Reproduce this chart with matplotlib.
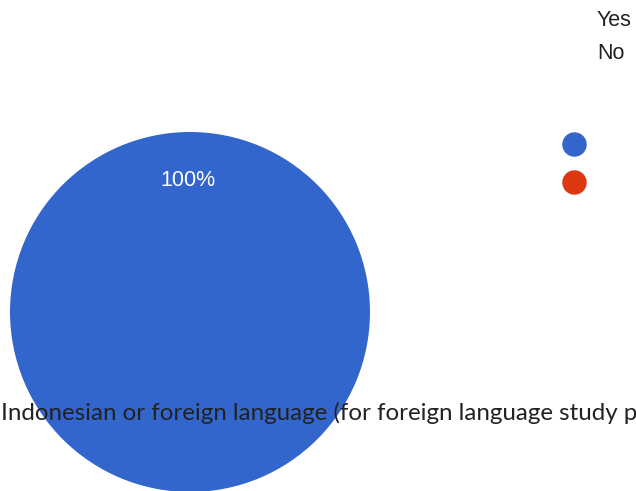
import matplotlib
matplotlib.use("Agg")
import matplotlib.pyplot as plt

labels = ["Yes", "No"]
values = [100, 0]
colors = ["#3366CC", "#DC3912"]
caption = "Indonesian or foreign language (for foreign language study p"

W, H = 636, 491
fig = plt.figure(figsize=(W / 100, H / 100), dpi=100)
ax = fig.add_axes([0, 0, 1, 1])

ax.pie(values[:1], colors=colors[:1], center=(190, H - 312), radius=180,
       startangle=90, counterclock=False)
ax.set_xlim(0, W)
ax.set_ylim(0, H)
ax.set_aspect("equal")
ax.axis("off")

pct = f"{values[0] / sum(values) * 100:.0f}%"
ax.text(188, H - 180, pct, color="white", fontsize=15.5, family="Liberation Sans",
        ha="center", va="center")

# legend: labels at top, markers lower
for i, (lab, col) in enumerate(zip(labels, colors)):
    ax.text(597, H - (20 + 33 * i), lab, fontsize=15.5, family="Liberation Sans",
            color="#222222", ha="left", va="center")
    ax.scatter([574], [H - (144 + 38 * i)], s=310, color=col, zorder=5, linewidths=0)

ax.text(1, H - 420, caption, fontsize=17.4, family="Lato", color="#222222",
        ha="left", va="baseline")

fig.savefig("out.png", dpi=100)
